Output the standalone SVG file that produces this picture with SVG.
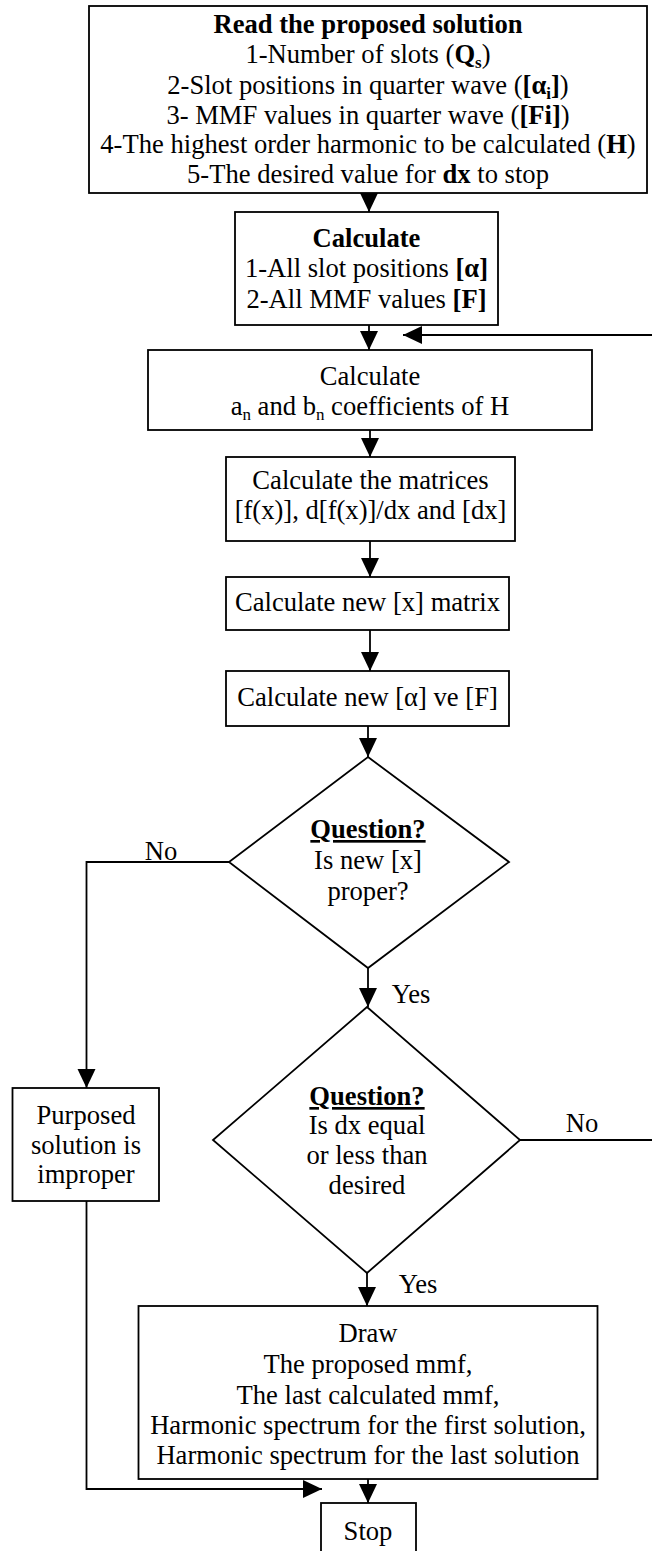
<svg xmlns="http://www.w3.org/2000/svg" width="652" height="1551" viewBox="0 0 652 1551">
<style>
.box{fill:#fff;stroke:#000;stroke-width:1.8}
.t{font-family:"Liberation Serif","Times New Roman",serif;font-size:26.6px;fill:#000;text-anchor:middle}
.b{font-weight:bold}
.sub{font-size:17px}
.c{fill:none;stroke:#000;stroke-width:1.8}
</style>
<defs>
<marker id="ah" markerUnits="userSpaceOnUse" markerWidth="20" markerHeight="20" refX="19" refY="9" orient="auto">
<path d="M0,0 L19,9 L0,18 Z" fill="#000"/>
</marker>
</defs>
<rect width="652" height="1551" fill="#fff"/>
<g id="connectors">
<line class="c" x1="369" y1="193" x2="369" y2="212" marker-end="url(#ah)"/>
<line class="c" x1="369" y1="325" x2="369" y2="350" marker-end="url(#ah)"/>
<path class="c" d="M520,1140 H664 V335 H403" marker-end="url(#ah)"/>
<line class="c" x1="370" y1="430" x2="370" y2="457" marker-end="url(#ah)"/>
<line class="c" x1="370" y1="541" x2="370" y2="577" marker-end="url(#ah)"/>
<line class="c" x1="370" y1="630" x2="370" y2="671" marker-end="url(#ah)"/>
<line class="c" x1="368" y1="726" x2="368" y2="757" marker-end="url(#ah)"/>
<path class="c" d="M229,862 H86.5 V1088" marker-end="url(#ah)"/>
<line class="c" x1="368" y1="968" x2="368" y2="1007" marker-end="url(#ah)"/>
<line class="c" x1="367" y1="1273" x2="367" y2="1306" marker-end="url(#ah)"/>
<line class="c" x1="368" y1="1479" x2="368" y2="1503" marker-end="url(#ah)"/>
<path class="c" d="M86.5,1201 V1489 H322" marker-end="url(#ah)"/>
<text class="t" x="161" y="860">No</text>
<text class="t" x="411" y="1003">Yes</text>
<text class="t" x="582" y="1132">No</text>
<text class="t" x="418" y="1293">Yes</text>
</g>
<g id="read">
<rect class="box" x="89" y="6" width="558" height="187"/>
<text class="t b" x="368" y="32.5">Read the proposed solution</text>
<text class="t" x="368" y="63">1-Number of slots (<tspan class="b">Q<tspan class="sub" dy="5">s</tspan></tspan><tspan dy="-5">)</tspan></text>
<text class="t" x="368" y="94">2-Slot positions in quarter wave (<tspan class="b">[α<tspan class="sub" dy="5">i</tspan><tspan dy="-5">]</tspan></tspan>)</text>
<text class="t" x="368" y="124">3- MMF values in quarter wave (<tspan class="b">[Fi]</tspan>)</text>
<text class="t" x="368" y="153">4-The highest order harmonic to be calculated (<tspan class="b">H</tspan>)</text>
<text class="t" x="368" y="183">5-The desired value for <tspan class="b">dx</tspan> to stop</text>
</g>
<g id="calc1">
<rect class="box" x="235" y="212" width="263" height="113"/>
<text class="t b" x="366.5" y="247">Calculate</text>
<text class="t" x="366.5" y="277">1-All slot positions <tspan class="b">[α]</tspan></text>
<text class="t" x="366.5" y="308">2-All MMF values <tspan class="b">[F]</tspan></text>
</g>
<g id="calc2">
<rect class="box" x="148" y="350" width="444" height="80"/>
<text class="t" x="370" y="385">Calculate</text>
<text class="t" x="370" y="415">a<tspan class="sub" dy="5">n</tspan><tspan dy="-5"> and b</tspan><tspan class="sub" dy="5">n</tspan><tspan dy="-5"> coefficients of H</tspan></text>
</g>
<g id="matrices">
<rect class="box" x="226" y="457" width="289" height="84"/>
<text class="t" x="370.5" y="489">Calculate the matrices</text>
<text class="t" x="370.5" y="519">[f(x)], d[f(x)]/dx and [dx]</text>
</g>
<g id="newx">
<rect class="box" x="226" y="577" width="283" height="53"/>
<text class="t" x="367.5" y="611">Calculate new [x] matrix</text>
</g>
<g id="newaf">
<rect class="box" x="226" y="671" width="283" height="55"/>
<text class="t" x="367.5" y="706">Calculate new [α] ve [F]</text>
</g>
<g id="q1">
<polygon class="box" points="368,757 509,862 368,968 229,862"/>
<text class="t b" x="368" y="838" text-decoration="underline">Question?</text>
<text class="t" x="368" y="869">Is new [x]</text>
<text class="t" x="368" y="900">proper?</text>
</g>
<g id="q2">
<polygon class="box" points="367,1007 520,1140 367,1273 213,1140"/>
<text class="t b" x="367" y="1105" text-decoration="underline">Question?</text>
<text class="t" x="367" y="1134">Is dx equal</text>
<text class="t" x="367" y="1164">or less than</text>
<text class="t" x="367" y="1194">desired</text>
</g>
<g id="improper">
<rect class="box" x="12.5" y="1088" width="146.5" height="113"/>
<text class="t" x="86" y="1124">Purposed</text>
<text class="t" x="86" y="1154">solution is</text>
<text class="t" x="86" y="1183">improper</text>
</g>
<g id="draw">
<rect class="box" x="138.5" y="1306" width="459" height="173"/>
<text class="t" x="368" y="1342">Draw</text>
<text class="t" x="368" y="1373">The proposed mmf,</text>
<text class="t" x="368" y="1404">The last calculated mmf,</text>
<text class="t" x="368" y="1434">Harmonic spectrum for the first solution,</text>
<text class="t" x="368" y="1464">Harmonic spectrum for the last solution</text>
</g>
<g id="stop">
<rect class="box" x="321" y="1503" width="95" height="60"/>
<text class="t" x="368" y="1540">Stop</text>
</g>
</svg>
